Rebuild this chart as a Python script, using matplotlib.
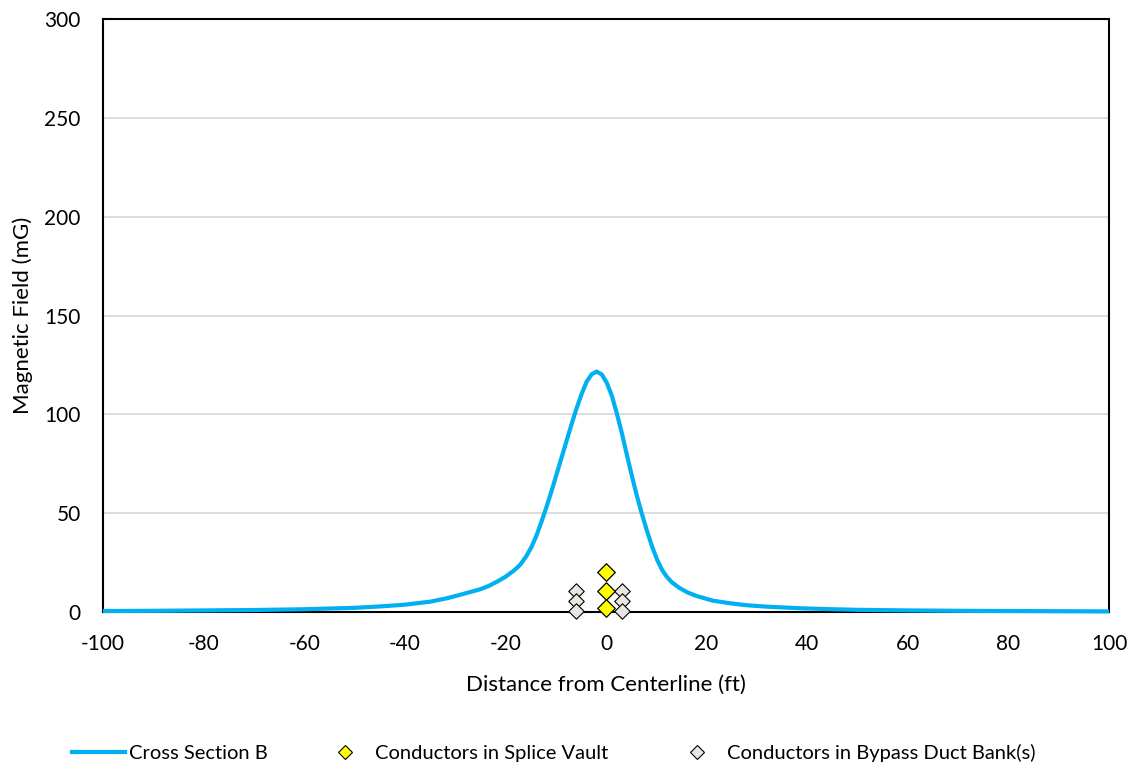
import matplotlib
matplotlib.use("Agg")
import matplotlib.pyplot as plt
from matplotlib.lines import Line2D

plt.rcParams['font.family'] = ['Lato', 'DejaVu Sans']

# Cross Section B magnetic field profile
dist_ft = [-100, -90, -80, -70, -60, -50, -45, -40, -35, -31.7, -28.4, -25,
           -23.3, -21.7, -20, -18.4, -17.5, -16.85, -15.85, -14.85, -13.85,
           -12.85, -11.85, -10.85, -9.85, -8.85, -7.85, -6.85, -5.85, -4.85,
           -3.85, -2.85, -1.85, -0.85, 0.15, 1.15, 2.15, 3.15, 4.15, 5.15,
           6.15, 7.15, 8.15, 9.15, 10.15, 11.15, 12.15, 13.15, 14.7, 16.3,
           18, 21.3, 24.7, 28, 32, 38.6, 45, 50, 60, 70, 80, 90, 100]
field_mG = [0.5, 0.6, 0.8, 1.0, 1.4, 2.1, 2.8, 3.7, 5.2, 6.9, 9.1, 11.5,
            13.2, 15.3, 17.8, 20.8, 22.8, 24.6, 28.2, 32.7, 38.5,
            45.5, 53.0, 61.0, 69.5, 78.0, 86.5, 95.0, 103.0, 110.3,
            116.5, 120.3, 121.6, 120.2, 116.0, 109.5, 100.5, 90.5, 79.5, 68.8,
            58.6, 49.5, 41.0, 33.2, 26.5, 21.3, 17.6, 14.9, 12.0, 9.8,
            8.1, 5.7, 4.4, 3.4, 2.7, 1.9, 1.4, 1.1, 0.8, 0.6, 0.5, 0.4, 0.3]

# Conductor positions
splice_x = [0, 0, 0]
splice_y = [20.2, 10.8, 2.2]
bypass_x = [-6, -6, -6, 3.1, 3.1, 3.1]
bypass_y = [10.8, 5.7, 0.7, 10.8, 5.7, 0.7]

x_ticks = list(range(-100, 101, 20))
y_ticks = list(range(0, 301, 50))

fig = plt.figure(figsize=(11.37, 7.70), dpi=100)
ax = fig.add_axes([103/1137, 1 - 612/770, (1109 - 103)/1137, (612 - 19)/770])

ax.plot(dist_ft, field_mG, color='#00B0F0', lw=3, zorder=3, clip_on=False,
        solid_joinstyle='round', solid_capstyle='butt')
ax.scatter(splice_x, splice_y, marker='D', s=80, facecolor='#FFFF00',
           edgecolor='black', linewidths=0.9, zorder=5, clip_on=False)
ax.scatter(bypass_x, bypass_y, marker='D', s=62, facecolor='#E8E6DE',
           edgecolor='black', linewidths=0.8, zorder=4, clip_on=False)

ax.set_xlim(-100, 100)
ax.set_ylim(0, 300)
ax.set_xticks(x_ticks)
ax.set_xticklabels([str(t) for t in x_ticks])
ax.set_yticks(y_ticks)
ax.set_yticklabels([str(t) for t in y_ticks])
ax.tick_params(axis='both', length=0, labelsize=15, colors='black')
ax.tick_params(axis='x', pad=16)
ax.tick_params(axis='y', pad=16)
ax.grid(axis='y', color='#D9D9D9', lw=1.3, zorder=0)
ax.set_axisbelow(True)
for sp in ax.spines.values():
    sp.set_color('black')
    sp.set_linewidth(1.5)

ax.set_xlabel('Distance from Centerline (ft)', fontsize=16)
ax.set_ylabel('Magnetic Field (mG)', fontsize=16)
ax.xaxis.set_label_coords(0.5, (612 - 675) / 593)
ax.yaxis.set_label_coords((33 - 103) / 1006, 0.5)

legend_items = [
    (Line2D([], [], color='#00B0F0', lw=3), 'Cross Section B', 72),
    (Line2D([], [], ls='none', marker='D', markersize=7.5, markerfacecolor='#FFFF00',
            markeredgecolor='black', markeredgewidth=0.8),
     'Conductors in Splice Vault', 318),
    (Line2D([], [], ls='none', marker='D', markersize=7, markerfacecolor='#E8E6DE',
            markeredgecolor='black', markeredgewidth=0.8),
     'Conductors in Bypass Duct Bank(s)', 670),
]
for h, lab, xpix in legend_items:
    fig.legend([h], [lab], loc='center left',
               bbox_to_anchor=(xpix / 1137, 1 - 753 / 770),
               frameon=False, fontsize=14.5, handlelength=2.64,
               handletextpad=0.2, borderpad=0, borderaxespad=0)

fig.savefig('out.png', dpi=100)
